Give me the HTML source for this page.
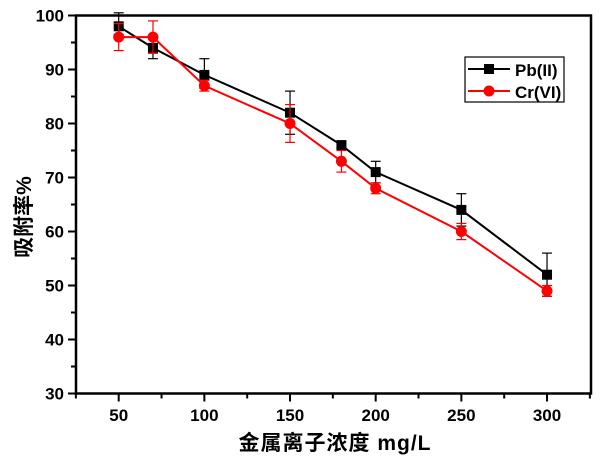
<!DOCTYPE html>
<html><head><meta charset="utf-8"><style>
html,body{margin:0;padding:0;background:#fff;width:600px;height:465px;overflow:hidden}
text{font-family:"Liberation Sans","Noto Sans CJK SC",sans-serif;font-weight:bold}
</style></head><body>
<svg id="s" width="600" height="465" xmlns="http://www.w3.org/2000/svg">
<rect x="76" y="15.5" width="515" height="378" fill="none" stroke="#000" stroke-width="2.5"/>
<g id="g"></g>
<rect x="465" y="57" width="99" height="45" fill="#fff" stroke="#000" stroke-width="1.2"/>
<line x1="468" y1="69" x2="510" y2="69" stroke="#000" stroke-width="2"/>
<rect x="484" y="64" width="10" height="10" fill="#000"/>
<text x="515" y="76" font-size="17">Pb(II)</text>
<line x1="468" y1="91" x2="510" y2="91" stroke="#f00" stroke-width="2"/>
<circle cx="489" cy="91" r="5.5" fill="#f00"/>
<text x="515" y="98" font-size="17">Cr(VI)</text>
<text x="335" y="450" font-size="21" text-anchor="middle" letter-spacing="1">金属离子浓度 mg/L</text>
<text transform="translate(31,217) rotate(-90)" font-size="21" text-anchor="middle">吸附率%</text>
</svg>
<script>
var g=document.getElementById('g'),h='';
function px(x){return 118.7+(x-50)*1.7133}
function py(y){return 15.5+(100-y)*5.4}
for(var v=30;v<=100;v+=5){var y=py(v),L=v%10==0?8:5;h+='<line x1="'+(76-L)+'" y1="'+y+'" x2="76" y2="'+y+'" stroke="#000" stroke-width="2"/>';
if(v%10==0)h+='<text x="64" y="'+(y+6)+'" font-size="17" text-anchor="end">'+v+'</text>';}
for(var v=25;v<=325;v+=25){var x=px(v),L=v%50==0?8:5;h+='<line x1="'+x+'" y1="393.5" x2="'+x+'" y2="'+(393.5+L)+'" stroke="#000" stroke-width="2"/>';
if(v%50==0&&v>=50&&v<=300)h+='<text x="'+x+'" y="421" font-size="17" text-anchor="middle">'+v+'</text>';}
var X=[50,70,100,150,180,200,250,300];
var pb=[[98,96.5,100.5],[94,92,96],[89,86.5,92],[82,78,86],[76,75.5,76.5],[71,69,73],[64,61,67],[52,48,56]];
var cr=[[96,93.5,98.5],[96,93,99],[87,86,88],[80,76.5,83.5],[73,71,75],[68,67,69],[60,58.5,61.5],[49,48,50]];
function ser(d,c,sq){var p=X.map(function(x,i){return px(x)+','+py(d[i][0])}).join(' ');
var s='<polyline points="'+p+'" fill="none" stroke="'+c+'" stroke-width="2"/>';
X.forEach(function(x,i){var a=px(x),t=py(d[i][2]),b=py(d[i][1]);
s+='<line x1="'+a+'" y1="'+t+'" x2="'+a+'" y2="'+b+'" stroke="'+c+'" stroke-width="1.2"/><line x1="'+(a-5)+'" y1="'+t+'" x2="'+(a+5)+'" y2="'+t+'" stroke="'+c+'" stroke-width="1.2"/><line x1="'+(a-5)+'" y1="'+b+'" x2="'+(a+5)+'" y2="'+b+'" stroke="'+c+'" stroke-width="1.2"/>';
var yy=py(d[i][0]);s+=sq?'<rect x="'+(a-5)+'" y="'+(yy-5)+'" width="10" height="10" fill="'+c+'"/>':'<circle cx="'+a+'" cy="'+yy+'" r="5.5" fill="'+c+'"/>';});return s;}
h+=ser(pb,'#000',1)+ser(cr,'#f00',0);
g.innerHTML=h;
</script>
</body></html>
